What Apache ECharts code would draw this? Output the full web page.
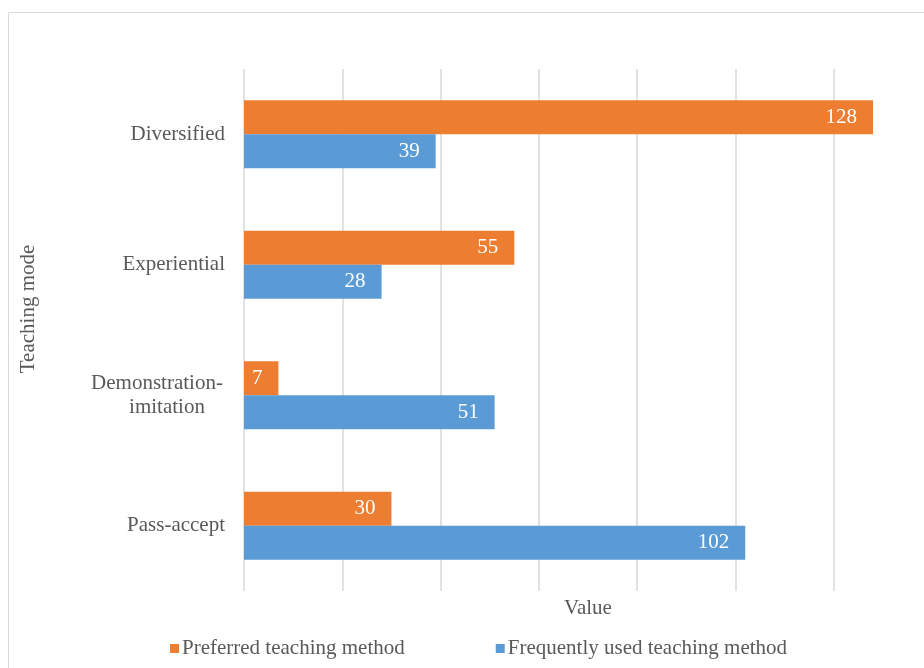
<!DOCTYPE html>
<html>
<head>
<meta charset="utf-8">
<script src="https://cdn.jsdelivr.net/npm/echarts@6/dist/echarts.min.js"></script>
<style>
  html, body { margin: 0; padding: 0; background: #fff; overflow: hidden; }
  #bar { width: 944px; height: 668px; }
</style>
</head>
<body>
<div id="bar"></div>
<script>
// data
let categories = ['Pass-accept', 'Demonstration-\nimitation', 'Experiential', 'Diversified'];
let preferred = [30, 7, 55, 128];
let frequent = [102, 51, 28, 39];
let seriesNames = ['Preferred teaching method', 'Frequently used teaching method'];

let font = '"Liberation Serif", "Times New Roman", serif';
let chart1 = echarts.init(document.getElementById('bar'));

let labelStyle = {
	show: true,
	position: 'insideRight',
	distance: 16,
	color: '#fff',
	fontFamily: font,
	fontSize: 21
};

chart1.setOption({
	animation: false,
	textStyle: { fontFamily: font },
	graphic: [{
		type: 'rect',
		shape: { x: 8.5, y: 12.5, width: 940, height: 700 },
		style: { fill: 'none', stroke: '#d9d9d9', lineWidth: 1 }
	}],
	grid: {
		left: 244,
		top: 69,
		width: 688,
		height: 522
	},
	legend: {
		data: seriesNames,
		left: 165,
		top: 633,
		itemWidth: 9,
		itemHeight: 9,
		itemGap: 91,
		icon: 'rect',
		textStyle: { color: '#595959', fontFamily: font, fontSize: 21, padding: [0, 0, 0, -2] }
	},
	xAxis: {
		type: 'value',
		min: 0,
		max: 140,
		interval: 20,
		name: 'Value',
		nameLocation: 'middle',
		nameGap: 7,
		nameTextStyle: { color: '#595959', fontFamily: font, fontSize: 21 },
		axisLine: { show: false },
		axisTick: { show: false },
		axisLabel: { show: false },
		splitLine: { show: true, lineStyle: { color: '#d9d9d9', width: 1.5 } }
	},
	yAxis: {
		type: 'category',
		data: categories,
		name: 'Teaching mode',
		nameLocation: 'middle',
		nameRotate: 90,
		nameGap: 205,
		nameTextStyle: { color: '#595959', fontFamily: font, fontSize: 21, padding: [0, 0, 0, 42] },
		axisLine: { show: false },
		axisTick: { show: false },
		axisLabel: {
			color: '#595959',
			fontFamily: font,
			fontSize: 21,
			margin: 19,
			formatter: function (v) {
				if (v.indexOf('\n') < 0) return v;
				let parts = v.split('\n');
				return '{c|' + parts[0] + '}\n{d|' + parts[1] + '}';
			},
			rich: {
				c: { width: 136, align: 'center', fontSize: 21, lineHeight: 24, color: '#595959', fontFamily: font },
				d: { width: 116, align: 'center', fontSize: 21, lineHeight: 24, color: '#595959', fontFamily: font, padding: [0, 0, 0, 20] }
			}
		},
		splitLine: { show: false }
	},
	series: [
		{
			name: seriesNames[0],
			type: 'bar',
			data: preferred,
			barWidth: 34,
			barGap: '0%',
			itemStyle: { color: '#ed7d31' },
			label: labelStyle
		},
		{
			name: seriesNames[1],
			type: 'bar',
			data: frequent,
			barWidth: 34,
			barGap: '0%',
			itemStyle: { color: '#5b9bd5' },
			label: labelStyle
		}
	]
});
</script>
</body>
</html>
